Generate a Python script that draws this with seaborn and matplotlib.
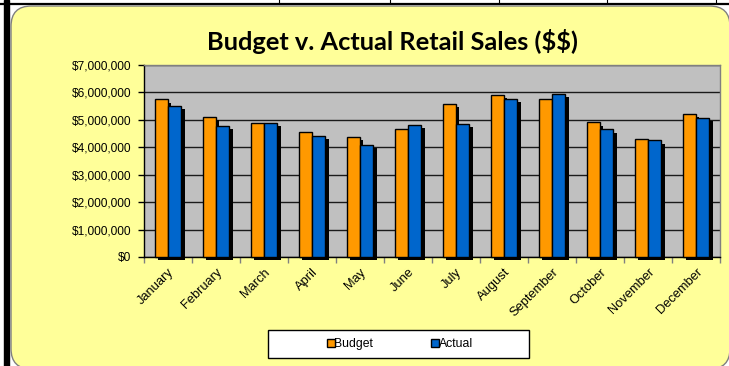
import matplotlib
matplotlib.use("Agg")
import matplotlib.pyplot as plt
import matplotlib.patheffects as pe
from matplotlib.patches import FancyBboxPatch, Rectangle
from matplotlib.lines import Line2D
from matplotlib.ticker import MultipleLocator, StrMethodFormatter
import seaborn as sns
import pandas as pd

months = ["January", "February", "March", "April", "May", "June",
          "July", "August", "September", "October", "November", "December"]
budget = [5750000, 5100000, 4900000, 4550000, 4370000, 4680000,
          5590000, 5920000, 5760000, 4910000, 4310000, 5230000]
actual = [5500000, 4770000, 4880000, 4410000, 4080000, 4830000,
          4860000, 5760000, 5960000, 4650000, 4250000, 5080000]
series_names = ["Budget", "Actual"]
series_colors = ["#FF9900", "#0066CC"]
title_text = "Budget v. Actual Retail Sales ($$)"

df = pd.DataFrame({
    "Month": months * 2,
    "Sales": budget + actual,
    "Series": [series_names[0]] * len(months) + [series_names[1]] * len(months),
})

W, H = 729, 366
fig = plt.figure(figsize=(W / 100, H / 100), dpi=100)
fig.patch.set_facecolor("white")


def fx(px):
    return px / W


def fy(py):
    return 1 - py / H


# sheet frame behind the chart object
fig.add_artist(Line2D([0, 1], [fy(3.5), fy(3.5)], color="black", lw=1.6,
                      transform=fig.transFigure, zorder=-2))
fig.add_artist(Rectangle((fx(4), 0), fx(5) - fx(0), 1, color="black",
                         transform=fig.transFigure, zorder=-2))
for gx in [279, 390, 499, 607, 716]:
    fig.add_artist(Line2D([fx(gx), fx(gx)], [fy(0), fy(3)], color="black",
                          lw=0.8, transform=fig.transFigure, zorder=-2))

# rounded chart area
fig.add_artist(FancyBboxPatch((fx(11), fy(369)), fx(730) - fx(11), fy(6) - fy(369),
                              boxstyle="round,pad=0,rounding_size=0.028",
                              facecolor="#FFFF99", edgecolor="#808080", lw=1,
                              transform=fig.transFigure, mutation_aspect=W / H,
                              zorder=-1))

ax = fig.add_axes([fx(144), fy(257), fx(720) - fx(144), fy(65) - fy(257)])
ax.set_facecolor("#C0C0C0")

sns.barplot(data=df, x="Month", y="Sales", hue="Series", palette=series_colors,
            width=0.56, saturation=1, edgecolor="black", linewidth=1,
            legend=False, ax=ax, zorder=3)

for p in ax.patches:
    p.set_clip_on(False)
    p.set_path_effects([pe.SimplePatchShadow(offset=(2.4, -2.4),
                                             shadow_rgbFace="black", alpha=1),
                        pe.Normal()])

ax.set_ylim(0, 7000000)
ax.set_xlim(-0.5, len(months) - 0.5)
ax.yaxis.set_major_locator(MultipleLocator(1000000))
ax.yaxis.set_major_formatter(StrMethodFormatter("${x:,.0f}"))
ax.yaxis.grid(True, color="#1a1a1a", lw=1)
ax.set_axisbelow(True)
ax.set_xlabel("")
ax.set_ylabel("")

ax.tick_params(axis="y", direction="out", length=4, width=1, color="black",
               labelsize=8.6, pad=5, labelcolor="black")
ax.tick_params(axis="x", which="major", length=0, pad=6.5, labelsize=9.3)
ax.set_xticks([i - 0.5 for i in range(len(months) + 1)], minor=True)
ax.tick_params(axis="x", which="minor", direction="out", length=4, width=1,
               color="#808080")
for lab in ax.get_xticklabels():
    lab.set_rotation(45)
    lab.set_ha("right")
    lab.set_va("top")
    lab.set_rotation_mode("anchor")
    lab.set_fontfamily("Liberation Sans")
for lab in ax.get_yticklabels():
    lab.set_fontfamily("Liberation Sans")

for s in ["top", "right"]:
    ax.spines[s].set_color("#808080")
    ax.spines[s].set_linewidth(1)
for s in ["left", "bottom"]:
    ax.spines[s].set_color("black")
    ax.spines[s].set_linewidth(1)

fig.text(fx(392.5), fy(41), title_text, ha="center", va="center",
         fontsize=18.3, fontweight="bold", family="Lato", color="black",
         parse_math=False)

# legend box
fig.add_artist(Rectangle((fx(267.5), fy(357.5)), fx(529) - fx(267.5),
                         fy(330) - fy(357.5), facecolor="white",
                         edgecolor="black", lw=1, transform=fig.transFigure))
handles = [Line2D([], [], marker="s", linestyle="none", markersize=5.5,
                  markerfacecolor=c, markeredgecolor="black", markeredgewidth=1)
           for c in series_colors]
fig.legend(handles, series_names, loc="center", bbox_to_anchor=(fx(401), fy(344)),
           ncol=2, frameon=False, handlelength=0.25, handletextpad=0.15,
           columnspacing=5.0, prop={"family": "Liberation Sans", "size": 8.8})

fig.savefig("out.png", dpi=100, facecolor=fig.get_facecolor())
